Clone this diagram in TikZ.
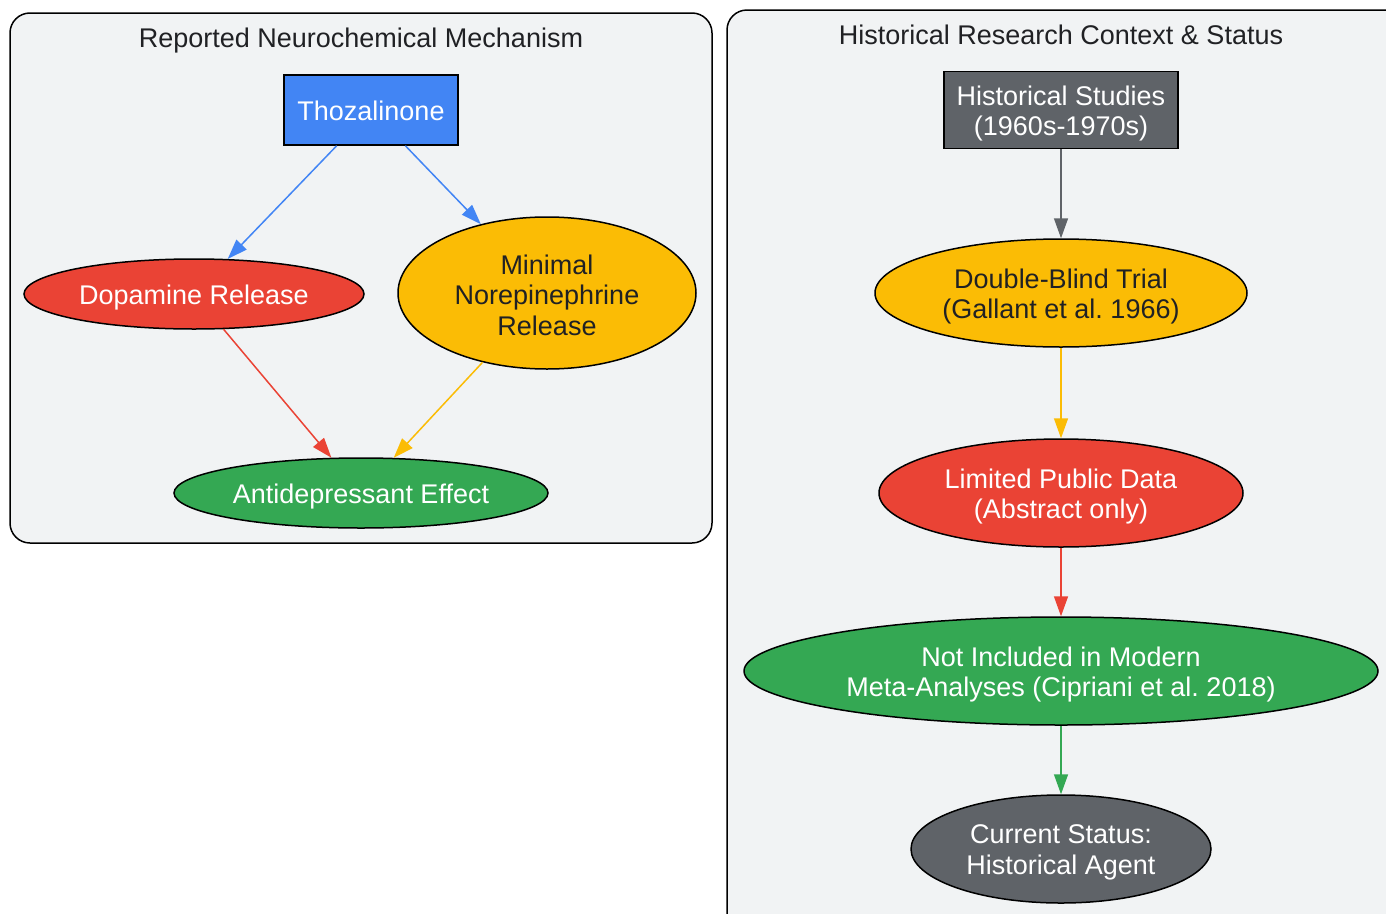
\documentclass[tikz,border=0pt]{standalone}
\usepackage{fontspec}
\setmainfont{Liberation Sans}
\frenchspacing
\usetikzlibrary{shapes.geometric,arrows.meta}
\definecolor{gblue}{HTML}{4285F4}
\definecolor{gred}{HTML}{EA4335}
\definecolor{gyellow}{HTML}{FBBC05}
\definecolor{ggreen}{HTML}{34A853}
\definecolor{ggray}{HTML}{5F6368}
\definecolor{gbg}{HTML}{F1F3F4}
\definecolor{gtext}{HTML}{202124}
\tikzset{
  cluster/.style={draw=black, line width=1.5pt, fill=gbg, rounded corners=20pt},
  ctitle/.style={text=gtext, font=\fontsize{27}{30}\selectfont, inner sep=0pt},
  boxnode/.style={rectangle, draw=black, line width=1.5pt, inner sep=0pt},
  ellnode/.style={ellipse, draw=black, line width=1.5pt, inner sep=0pt},
  lbl/.style={inner sep=0pt, align=center, font=\fontsize{27}{30.5}\selectfont\frenchspacing, yshift=-3.5pt},
  conn/.style={line width=1.5pt, -{Triangle[length=20pt,width=14pt]}},
}
\begin{document}
\begin{tikzpicture}[x=1pt,y=-1pt]
\useasboundingbox (0,0) rectangle (1386,913);
\clip (0,0) rectangle (1386,913);
\fill[white] (0,0) rectangle (1386,913);
% clusters
\draw[cluster] (10,13) rectangle (712,543);
\draw[cluster] (727,10) rectangle (1410,940);
\node[ctitle] (t1) at (361,40.5) {Reported Neurochemical Mechanism};
\node[ctitle] (t2) at (1061,35) {Historical Research Context \& Status};
% left nodes
\node[boxnode, fill=gblue, minimum width=174pt, minimum height=70pt] (thoz) at (371,110) {};
\node[ellnode, fill=gred, minimum width=340pt, minimum height=70pt] (dopa) at (194,294) {};
\node[ellnode, fill=gyellow, minimum width=298pt, minimum height=152pt] (nore) at (547,293) {};
\node[ellnode, fill=ggreen, minimum width=374pt, minimum height=70pt] (anti) at (361,493) {};
% right nodes
\node[boxnode, fill=ggray, minimum width=234pt, minimum height=77pt] (hist) at (1061,110) {};
\node[ellnode, fill=gyellow, minimum width=372pt, minimum height=108pt] (dbt) at (1061,293) {};
\node[ellnode, fill=gred, minimum width=364pt, minimum height=108pt] (lpd) at (1061,493) {};
\node[ellnode, fill=ggreen, minimum width=634pt, minimum height=108pt] (nim) at (1061,671) {};
\node[ellnode, fill=ggray, minimum width=300pt, minimum height=108pt] (cur) at (1061,849) {};
% labels
\node[lbl, text=white, yshift=3pt] (thoz-t) at (thoz.center) {Thozalinone};
\node[lbl, text=white] (dopa-t) at (dopa.center) {Dopamine Release};
\node[lbl, text=gtext, yshift=1.5pt] (nore-t) at (nore.center) {Minimal\\Norepinephrine\\Release};
\node[lbl, text=white] (anti-t) at (anti.center) {Antidepressant Effect};
\node[lbl, text=white] (hist-t) at (hist.center) {Historical Studies\\(1960s-1970s)};
\node[lbl, text=gtext] (dbt-t) at (dbt.center) {Double-Blind Trial\\(Gallant et al. 1966)};
\node[lbl, text=white] (lpd-t) at (lpd.center) {Limited Public Data\\(Abstract only)};
\node[lbl, text=white] (nim-t) at (nim.center) {Not Included in Modern\\Meta-Analyses (Cipriani et al. 2018)};
\node[lbl, text=white] (cur-t) at (cur.center) {Current Status:\\Historical Agent};
% edges
\draw[conn, draw=gblue, fill=gblue] (thoz) -- (dopa);
\draw[conn, draw=gblue, fill=gblue] (thoz) -- (nore);
\draw[conn, draw=gred, fill=gred] (dopa) -- (anti);
\draw[conn, draw=gyellow, fill=gyellow] (nore) -- (anti);
\draw[conn, draw=ggray, fill=ggray] (hist) -- (dbt);
\draw[conn, draw=gyellow, fill=gyellow] (dbt) -- (lpd);
\draw[conn, draw=gred, fill=gred] (lpd) -- (nim);
\draw[conn, draw=ggreen, fill=ggreen] (nim) -- (cur);
\end{tikzpicture}
\end{document}
